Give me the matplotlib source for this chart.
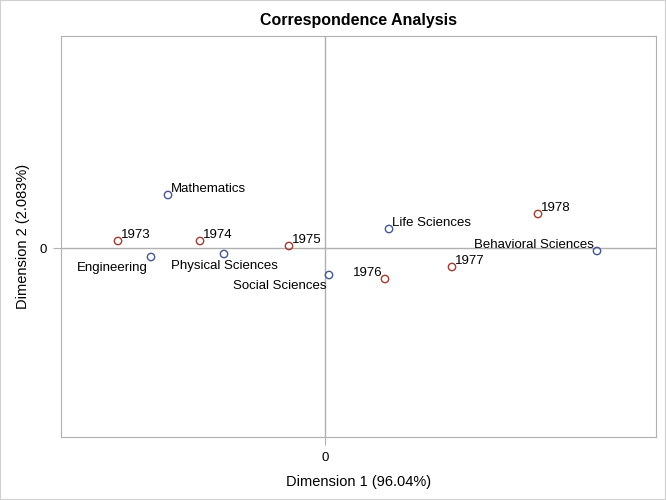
import matplotlib
matplotlib.use("Agg")
import matplotlib.pyplot as plt
from matplotlib.patches import Rectangle

plt.rcParams['font.family'] = ['Liberation Sans', 'DejaVu Sans']

# Column points (fields)
fields = ["Life Sciences", "Physical Sciences", "Social Sciences",
          "Behavioral Sciences", "Engineering", "Mathematics"]
field_x = [0.064, -0.101, 0.004, 0.272, -0.174, -0.157]
field_y = [0.019, -0.006, -0.027, -0.003, -0.009, 0.053]

# Row points (years)
years = ["1973", "1974", "1975", "1976", "1977", "1978"]
year_x = [-0.207, -0.125, -0.036, 0.060, 0.127, 0.213]
year_y = [0.007, 0.007, 0.002, -0.031, -0.019, 0.034]

# label placement: (dx, dy, ha, va) in points
field_pos = {
    "Life Sciences": (2, 0, 'left', 'bottom'),
    "Physical Sciences": (0, -4.5, 'center', 'top'),
    "Social Sciences": (-2, -3.5, 'right', 'top'),
    "Behavioral Sciences": (-2, 0, 'right', 'bottom'),
    "Engineering": (-2, -3.5, 'right', 'top'),
    "Mathematics": (2, 0, 'left', 'bottom'),
}
year_pos = {
    "1973": (2, 0, 'left', 'bottom'),
    "1974": (2, 0, 'left', 'bottom'),
    "1975": (2, 0, 'left', 'bottom'),
    "1976": (-2, 0, 'right', 'bottom'),
    "1977": (2, 0, 'left', 'bottom'),
    "1978": (2, 0, 'left', 'bottom'),
}

blue = '#445694'
red = '#A23A2E'

fig = plt.figure(figsize=(6.66, 5.0), dpi=100)
ax = fig.add_axes([0.0916, 0.126, 0.8934, 0.802])

ax.axhline(0, color='#b0b0b0', lw=1, zorder=1)
ax.axvline(0, color='#b0b0b0', lw=1, zorder=1)

ax.scatter(field_x, field_y, s=28, facecolors='none', edgecolors=blue, linewidths=1, zorder=3)
ax.scatter(year_x, year_y, s=28, facecolors='none', edgecolors=red, linewidths=1, zorder=3)

for name, x, y in zip(fields, field_x, field_y):
    dx, dy, ha, va = field_pos[name]
    ax.annotate(name, (x, y), xytext=(dx, dy), textcoords='offset points',
                ha=ha, va=va, fontsize=9.5, color='black')
for name, x, y in zip(years, year_x, year_y):
    dx, dy, ha, va = year_pos[name]
    ax.annotate(name, (x, y), xytext=(dx, dy), textcoords='offset points',
                ha=ha, va=va, fontsize=9.5, color='black')

ax.set_xlim(-0.264, 0.331)
ax.set_ylim(-0.189, 0.212)
ax.set_xticks([0])
ax.set_yticks([0])
ax.set_xticklabels(['0'])
ax.set_yticklabels(['0'])
ax.tick_params(direction='out', length=6, color='#b0b0b0', labelsize=9.5, pad=4)
ax.tick_params(axis='x', pad=5)
for sp in ax.spines.values():
    sp.set_color('#b0b0b0')
ax.set_xlabel('Dimension 1 (96.04%)', fontsize=10.5, labelpad=8)
ax.set_ylabel('Dimension 2 (2.083%)', fontsize=10.5, labelpad=7)
ax.set_title('Correspondence Analysis', fontsize=11.5, fontweight='bold', pad=8)

fig.patches.append(Rectangle((0, 0), 1, 1, transform=fig.transFigure,
                             fill=False, edgecolor='#d0d0d0', lw=1.5))

fig.savefig('out.png', dpi=100)
